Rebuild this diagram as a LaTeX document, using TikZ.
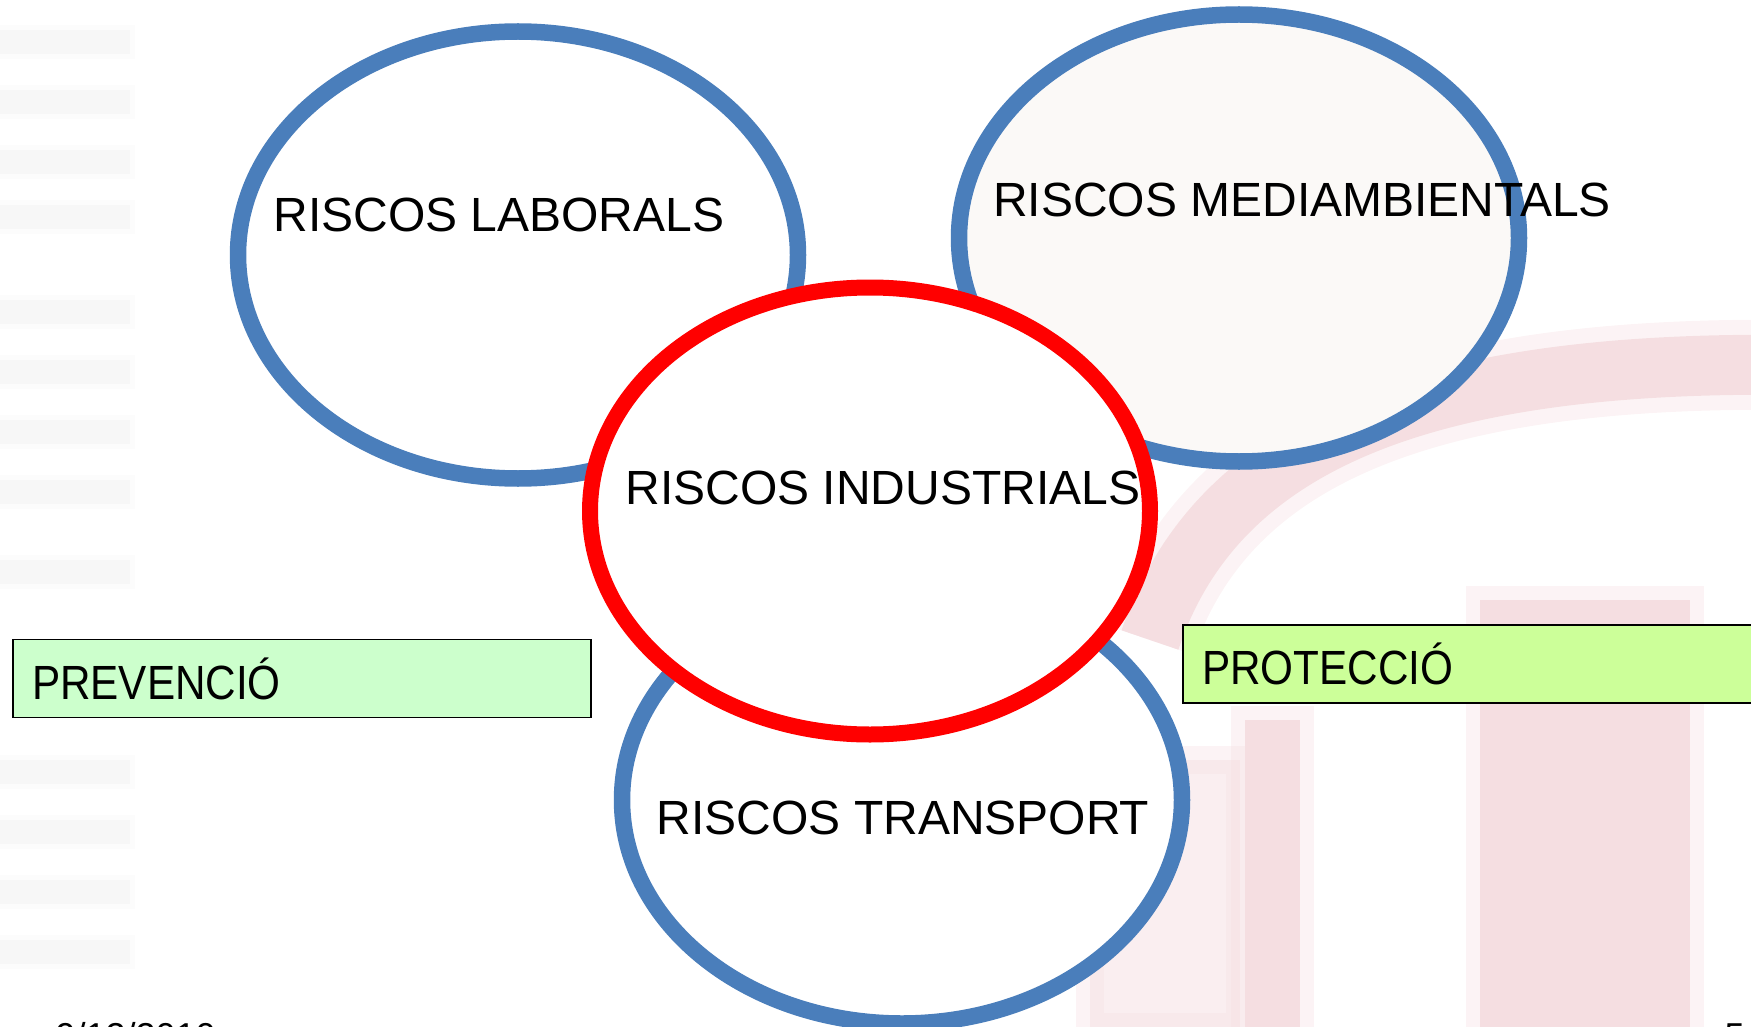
\documentclass[tikz,border=0pt]{standalone}
\usepackage{fontspec}
\setmainfont{Liberation Sans}
\newfontfamily\narrowsans[FakeStretch=0.88]{Liberation Sans}
\usepackage{tikz}
\usetikzlibrary{shapes.geometric,positioning}

\definecolor{ringblue}{RGB}{74,126,187}
\definecolor{ringred}{RGB}{255,0,0}
\definecolor{offwhite}{RGB}{251,249,247}
\definecolor{prevgreen}{RGB}{204,255,204}
\definecolor{protgreen}{RGB}{204,255,153}
\definecolor{washpink}{RGB}{245,222,225}

\begin{document}
\begin{tikzpicture}
  [x=1pt,y=-1pt,every node/.style={font=\fontsize{48}{56}\selectfont},
   riskring/.style={ellipse,draw=ringblue,line width=16.5pt,fill=white,
     minimum width=560pt,minimum height=447pt,inner sep=0pt},
   areabox/.style={draw=black,line width=1.6pt,minimum height=78pt,inner xsep=19pt,
     align=left,font=\narrowsans\fontsize{48}{56}\selectfont},
   wash/.style={fill=washpink,draw=washpink,draw opacity=0.35,line width=28pt}]
  \useasboundingbox (0,0) rectangle (1751,1027);
  \clip (0,0) rectangle (1751,1027);

  % faded background
  \foreach \yy in {30,90,150,205,300,360,420,480,560,760,820,880,940}
    \fill[black!3,draw=black!3,draw opacity=0.4,line width=10pt] (0,\yy) rectangle (130,\yy+24);
  \fill[wash,fill opacity=0.5] (1090,760) rectangle (1240,1027);
  \fill[wash] (1245,720) rectangle (1300,1027);
  \fill[wash] (1480,600) rectangle (1690,1027);
  \draw[washpink,line width=90pt,opacity=0.35] (1150,640) .. controls (1220,430) and (1450,360) .. (1800,365);
  \draw[washpink,line width=60pt] (1150,640) .. controls (1220,430) and (1450,360) .. (1800,365);

  % rings
  \node[riskring] (trans) at (902,800) {};
  \node[riskring] (labor) at (518,255) {};
  \node[riskring,fill=offwhite] (medi) at (1239,238) {};
  \node[riskring,draw=ringred,line width=16pt] (indus) at (870,511) {};

  \node (labortxt) at (499,215) {RISCOS LABORALS};
  \node (meditxt) at (1302,200) {RISCOS MEDIAMBIENTALS};
  \node (industxt) at (883,488) {RISCOS INDUSTRIALS};
  \node (transtxt) at (903,818) {RISCOS TRANSPORT};

  % boxes
  \node[areabox,fill=prevgreen,text width=540pt] (prev) at (302,678.5) {PREVENCIÓ};
  \node[areabox,fill=protgreen,text width=559pt] (prot) at (1481.5,664) {PROTECCIÓ};

  \node[anchor=base west,font=\fontsize{36}{40}\selectfont] (date) at (52,1048) {9/12/2010};
  \node[anchor=base west,font=\fontsize{36}{40}\selectfont] (pagenum) at (1721,1048) {5};
\end{tikzpicture}
\end{document}
